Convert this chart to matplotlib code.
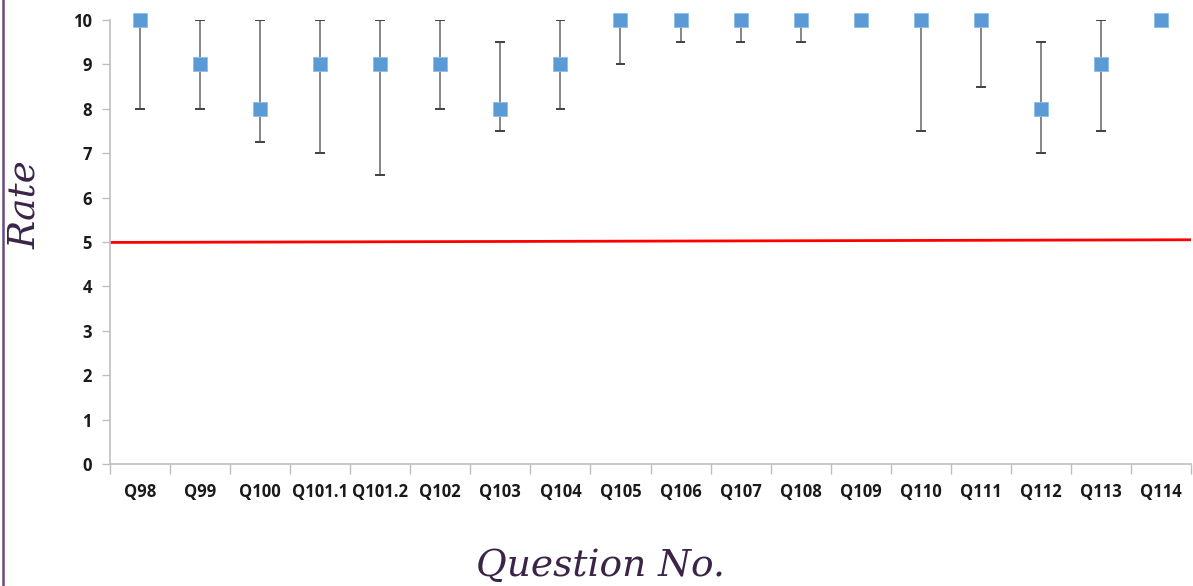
import numpy as np
import matplotlib
matplotlib.use("Agg")
import matplotlib.pyplot as plt
from matplotlib.ticker import FixedLocator, NullFormatter

# data
questions = ["Q98", "Q99", "Q100", "Q101.1", "Q101.2", "Q102", "Q103", "Q104", "Q105",
             "Q106", "Q107", "Q108", "Q109", "Q110", "Q111", "Q112", "Q113", "Q114"]
median = [10, 9, 8, 9, 9, 9, 8, 9, 10, 10, 10, 10, 10, 10, 10, 8, 9, 10]
low = [8, 8, 7.25, 7, 6.5, 8, 7.5, 8, 9, 9.5, 9.5, 9.5, 10, 7.5, 8.5, 7, 7.5, 10]
high = [10, 10, 10, 10, 10, 10, 9.5, 10, 10, 10, 10, 10, 10, 10, 10, 9.5, 10, 10]
threshold = [4.99, 5.05]  # red reference line, start and end value

x = np.arange(len(questions))
median = np.array(median)
err = [median - np.array(low), np.array(high) - median]

fig = plt.figure(figsize=(11.93, 5.86), dpi=100)
ax = fig.add_axes([110 / 1193, 1 - 464 / 586, 1081 / 1193, 444 / 586])

ax.errorbar(x, median, yerr=err, fmt="none", ecolor="#858585", elinewidth=1.4,
            capsize=0, zorder=2)
# darker caps
for lo, hi, xi in zip(low, high, x):
    if hi > lo:
        ax.plot([xi - 0.065, xi + 0.065], [lo, lo], color="#404040", lw=1.4, zorder=2)
        ax.plot([xi - 0.065, xi + 0.065], [hi, hi], color="#404040", lw=1.4, zorder=2)
ax.plot(x, median, "s", color="#5b9bd5", markersize=9.5, markeredgecolor="#8fbce6",
        markeredgewidth=0.6, zorder=3, clip_on=False)

ax.plot([-0.5, len(questions) - 0.5], threshold, color="#ff0000", lw=2, zorder=1)

ax.set_xlim(-0.5, len(questions) - 0.5)
ax.set_ylim(0, 10)
ax.set_yticks(range(0, 11))

ax.xaxis.set_major_locator(FixedLocator(np.arange(-0.5, len(questions), 1.0)))
ax.xaxis.set_major_formatter(NullFormatter())
ax.xaxis.set_minor_locator(FixedLocator(x))
ax.set_xticklabels(questions, minor=True)
ax.tick_params(axis="x", which="major", length=7, width=1, color="#bfbfbf", direction="out")
ax.tick_params(axis="x", which="minor", length=0, pad=14)
ax.tick_params(axis="y", length=6, width=1, color="#bfbfbf", pad=7)

for lab in ax.get_xticklabels(minor=True) + ax.get_yticklabels():
    lab.set_fontfamily("Open Sans")
    lab.set_fontweight("bold")
    lab.set_fontsize(12)
    lab.set_color("#1a1a1a")

for s in ["top", "right"]:
    ax.spines[s].set_visible(False)
for s in ["left", "bottom"]:
    ax.spines[s].set_color("#bfbfbf")
    ax.spines[s].set_linewidth(1.2)

label_font = dict(family="DejaVu Serif", style="italic", size=27, color="#3a2448")
fig.text(25 / 1193, 1 - 205 / 586, "Rate", rotation=90, ha="center", va="center", **label_font)
fig.text(600 / 1193, 1 - 566 / 586, "Question No.", ha="center", va="center", **label_font)

# purple frame edge at left
fig.add_artist(plt.Line2D([3 / 1193, 3 / 1193], [0, 1], color="#6b4a7a", lw=1.8,
                          transform=fig.transFigure))

fig.savefig("out.png", dpi=100)
